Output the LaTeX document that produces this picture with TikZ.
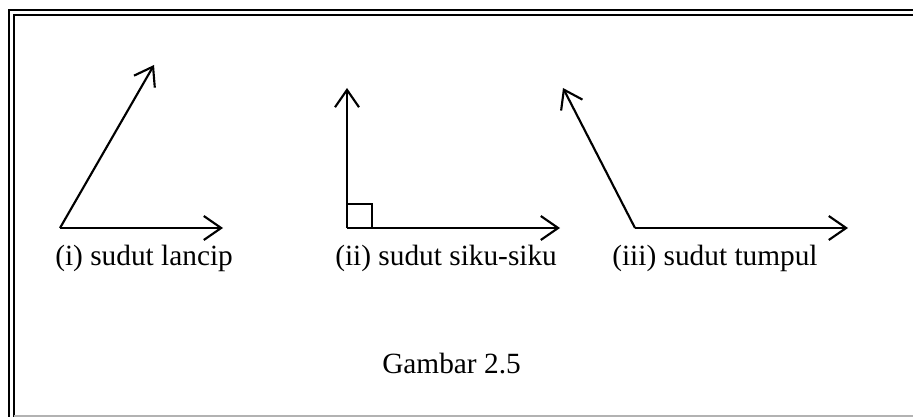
\documentclass[tikz,border=0pt]{standalone}
\usepackage{fontspec}
\setmainfont{Liberation Serif}
\usetikzlibrary{arrows.meta,positioning}

\tikzset{
  kaki/.style={line width=1.6pt,-{Straight Barb[length=13pt,width=18pt,line width=1.6pt]}},
  bingkai/.style={line width=1.6pt},
  label/.style={anchor=base west,inner sep=0pt,font=\fontsize{22}{26}\selectfont},
}

\begin{document}
\begin{tikzpicture}[x=0.75pt,y=-0.75pt]

  \useasboundingbox (0,0) rectangle (913,417);

  % Bingkai
  \coordinate (b1) at (9,430);
  \coordinate (b2) at (9,10);
  \coordinate (b3) at (930,10);
  \coordinate (c1) at (14,430);
  \coordinate (c2) at (14,15);
  \coordinate (c3) at (930,15);
  \coordinate (d1) at (14,416);
  \coordinate (d2) at (930,416);
  \draw[bingkai] (b1) -- (b2) -- (b3);
  \draw[bingkai] (c1) -- (c2) -- (c3);
  \draw[gray!60,line width=0.8pt] (d1) -- (d2);

  % Titik sudut
  \coordinate (v1) at (60,228);
  \coordinate (v2) at (347,228);
  \coordinate (v3) at (635,228);

  % Ujung kaki sudut
  \coordinate (a1) at (154,65);
  \coordinate (h1) at (223,228);
  \coordinate (a2) at (347,88);
  \coordinate (h2) at (560,228);
  \coordinate (a3) at (563,88);
  \coordinate (h3) at (848,228);

  % Kaki sudut
  \draw[kaki] (v1) -- (a1);
  \draw[kaki] (v1) -- (h1);
  \draw[kaki] (v2) -- (a2);
  \draw[kaki] (v2) -- (h2);
  \draw[kaki] (v3) -- (a3);
  \draw[kaki] (v3) -- (h3);

  % Tanda siku
  \coordinate (s1) at (372,204);
  \draw[line width=1pt] (v2) ++(0,-24) -| (s1) |- (v2);

  % Keterangan
  \node[label] (l1) at (55,265) {(i) sudut lancip};
  \node[label] (l2) at (335,265) {(ii) sudut siku-siku};
  \node[label] (l3) at (612,265) {(iii) sudut tumpul};
  \node[label] (judul) at (382,373) {Gambar 2.5};

\end{tikzpicture}
\end{document}
